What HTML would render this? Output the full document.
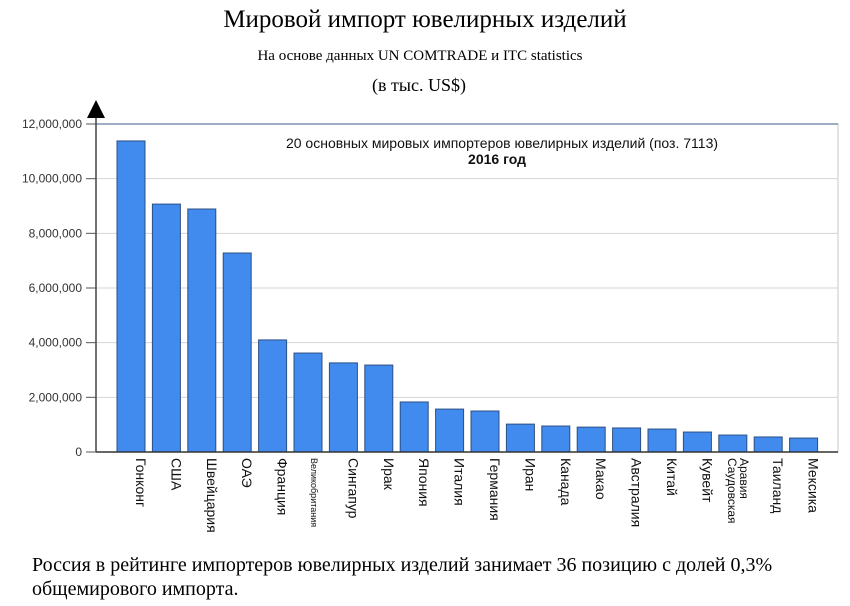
<!DOCTYPE html>
<html><head><meta charset="utf-8"><style>
body{margin:0;background:#fff;width:850px;height:606px;overflow:hidden;position:relative;font-family:"Liberation Serif",serif}
.t{position:absolute;left:0;width:850px;text-align:center;color:#000}
</style></head><body>
<div class="t" style="top:6px;font-size:25px;left:0;width:850px">Мировой импорт ювелирных изделий</div>
<div class="t" style="top:48px;font-size:15px;left:-5px">На основе данных UN COMTRADE и ITC statistics</div>
<div class="t" style="top:75px;font-size:18px;left:-6px">(в тыс. US$)</div>
<svg id="chart" width="850" height="545" style="position:absolute;left:0;top:0" font-family="Liberation Sans, sans-serif"></svg>
<div style="position:absolute;left:32px;top:553px;font-size:20px;line-height:24px;width:800px">Россия в рейтинге импортеров ювелирных изделий занимает 36 позицию с долей 0,3% общемирового импорта.</div>
<script>
const categories=["Гонконг","США","Швейцария","ОАЭ","Франция","Великобритания","Сингапур","Ирак","Япония","Италия","Германия","Иран","Канада","Макао","Австралия","Китай","Кувейт","Саудовская|Аравия","Таиланд","Мексика"];
const values=[11380000,9070000,8890000,7280000,4100000,3620000,3260000,3180000,1830000,1570000,1500000,1020000,950000,910000,880000,840000,730000,620000,550000,510000];
const ticks=[0,2000000,4000000,6000000,8000000,10000000,12000000];
const tickLabels=["0","2,000,000","4,000,000","6,000,000","8,000,000","10,000,000","12,000,000"];
const NS="http://www.w3.org/2000/svg";
const svg=document.getElementById('chart');
const x0=96,x1=838,yTop=124,yBot=452,yMax=12000000;
const y=v=>yBot-(v/yMax)*(yBot-yTop);
const step=35.4,bw=28,firstX=117;
const bx=i=>firstX+i*step;
function mk(t,a){const e=document.createElementNS(NS,t);for(const k in a)e.setAttribute(k,a[k]);svg.appendChild(e);return e;}
// frame
let fr=mk('rect',{x:x0,y:yTop,width:x1-x0,height:yBot-yTop,fill:'none',stroke:'#c8c8c8'});


let tl=mk('line',{x1:x0,y1:yTop,x2:x1,y2:yTop,stroke:'#3c5a8c','stroke-width':1});


ticks.forEach((v,i)=>{
  if(v>0&&v<yMax){const g=mk('line',{x1:x0,y1:y(v),x2:x1,y2:y(v),stroke:'#d4d4d4'});
  
  }
  const tk=mk('line',{x1:x0-10,y1:y(v),x2:x0,y2:y(v),stroke:'#555'});
  
  
  const t=mk('text',{x:x0-14,y:y(v)+4,'text-anchor':'end','font-size':12,fill:'#333'});
  t.textContent=tickLabels[i];
  
  
});
categories.forEach((c,i)=>{
  const r=mk('rect',{x:bx(i),y:y(values[i]),width:bw,height:yBot-y(values[i]),fill:'#418bef',stroke:'#2c4f84','stroke-width':1});
  
  
  const lines=c.split('|');
  const small=c==="Великобритания";
  const cx=bx(i)+bw/2;
  const t=mk('text',{transform:`translate(${cx+(lines.length>1?-1:0)},458) rotate(90)`,'font-size':small?9:14,fill:'#111'});
  lines.forEach((l,k)=>{const s=document.createElementNS(NS,'tspan');s.setAttribute('x',0);s.setAttribute('y',(lines.length>1?(k===0?4:-8):(small?-3:-5)));s.setAttribute('font-size',lines.length>1?12:(small?9:14));s.textContent=l;t.appendChild(s);});
  
  
});
let ax=mk('line',{x1:x0,y1:yBot,x2:x1,y2:yBot,stroke:'#333','stroke-width':1.5});


let ay=mk('line',{x1:x0,y1:112,x2:x0,y2:yBot,stroke:'#444','stroke-width':1.5});


let ar=mk('polygon',{points:`${x0},100 ${x0-9},118 ${x0+9},118`,fill:'#000'});


let ct=mk('text',{x:502,y:148,'text-anchor':'middle','font-size':14,fill:'#111'});
ct.textContent='20 основных мировых импортеров ювелирных изделий (поз. 7113)';


let cy=mk('text',{x:497,y:164,'text-anchor':'middle','font-size':14,'font-weight':'bold',fill:'#111'});
cy.textContent='2016 год';


</script>
</body></html>
